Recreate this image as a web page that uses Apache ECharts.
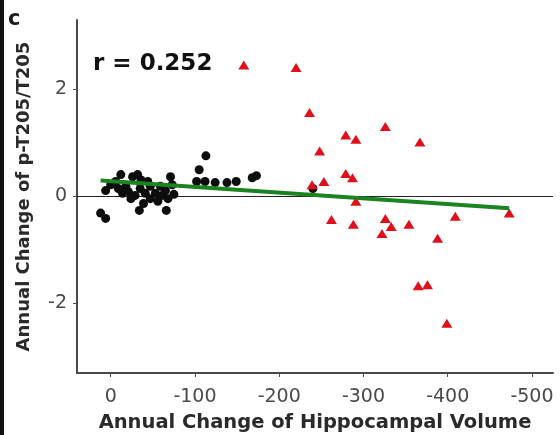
<!DOCTYPE html>
<html>
<head>
<meta charset="utf-8">
<script src="https://cdn.jsdelivr.net/npm/echarts@6/dist/echarts.min.js"></script>
<style>
  html, body { margin: 0; padding: 0; background: #fff; }
  #chart { width: 560px; height: 435px; }
</style>
</head>
<body>
<div id="chart"></div>
<script>
// 黑点：海马体积年变化较小的一组
const blackX = [12, 6, 6, 0, -12, -6, -18, -21, -26, -32, -36, -29, -35, -41, -47, -47, -53, -56, -59,
  -34, -39, -61, -65, -68, -66, -71, -73, -75, -24, -14, -44, -9,
  -113, -105, -102, -112, -124, -138, -149, -168, -173, -240];
const blackY = [-0.31, -0.41, 0.11, 0.22, 0.41, 0.28, 0.19, 0.09, 0.37, 0.41, 0.31, 0.02, 0.15, 0.06, 0.19, -0.04, 0.06, -0.09, 0.19,
  -0.26, -0.13, 0.02, 0.11, -0.04, -0.26, 0.37, 0.22, 0.04, -0.04, 0.06, 0.28, 0.15,
  0.76, 0.50, 0.28, 0.28, 0.26, 0.26, 0.28, 0.35, 0.39, 0.15];

// 红色三角：萎缩较快的一组
const redX = [-158, -220, -236, -248, -279, -291, -326, -367, -279, -287, -239, -253, -291,
  -262, -288, -326, -333, -322, -354, -409, -473, -388, -365, -376, -399];
const redY = [2.46, 2.41, 1.57, 0.85, 1.15, 1.07, 1.31, 1.02, 0.43, 0.35, 0.22, 0.28, -0.09,
  -0.43, -0.52, -0.41, -0.56, -0.69, -0.52, -0.37, -0.31, -0.78, -1.67, -1.65, -2.37];

// 回归线端点
const fitX = [12, -473];
const fitY = [0.30, -0.22];

const xTicks = [0, -100, -200, -300, -400, -500];
const yTicks = [-2, 0, 2];

const zip = (xs, ys) => xs.map((x, i) => [x, ys[i]]);

const chart = echarts.init(document.getElementById('chart'));

const axisColor = '#4a4a4a';
const labelColor = '#4a4a4a';
const fontFamily = 'DejaVu Sans, Liberation Sans, sans-serif';

const option = {
  animation: false,
  backgroundColor: '#fff',
  grid: { left: 77, right: 7, top: 20, bottom: 62, outerBoundsMode: 'none', containLabel: false },
  graphic: [
    { type: 'rect', left: 0, top: 0, shape: { width: 4, height: 435 }, style: { fill: '#111' } },
    { type: 'text', left: 8, top: 9, style: { text: 'c', font: 'bold 21px ' + fontFamily, fill: '#1a1a1a' } },
    { type: 'text', left: 93, top: 53, style: { text: 'r = 0.252', font: 'bold 23px ' + fontFamily, fill: '#111' } }
  ],
  xAxis: {
    type: 'value',
    inverse: true,
    min: -525,
    max: 40,
    name: 'Annual Change of Hippocampal Volume',
    nameLocation: 'middle',
    nameGap: 40,
    nameTextStyle: { fontSize: 19.5, fontWeight: 'bold', color: '#2a2a2a', fontFamily: fontFamily },
    splitLine: { show: false },
    axisLine: { onZero: false, lineStyle: { color: axisColor, width: 2 } },
    axisTick: { customValues: xTicks, length: 4, lineStyle: { color: axisColor } },
    axisLabel: { customValues: xTicks, fontSize: 19, color: labelColor, margin: 15, fontFamily: fontFamily }
  },
  yAxis: {
    type: 'value',
    min: -3.3,
    max: 3.3,
    name: 'Annual Change of p-T205/T205',
    nameLocation: 'middle',
    nameGap: 44,
    nameTextStyle: { fontSize: 18, fontWeight: 'bold', color: '#2a2a2a', fontFamily: fontFamily },
    splitLine: { show: false },
    axisLine: { onZero: false, lineStyle: { color: axisColor, width: 2 } },
    axisTick: { customValues: yTicks, length: 4, lineStyle: { color: axisColor } },
    axisLabel: { customValues: yTicks, fontSize: 19, color: labelColor, margin: 10, fontFamily: fontFamily }
  },
  series: [
    {
      type: 'line',
      data: [[40, 0], [-525, 0]],
      symbol: 'none',
      lineStyle: { color: '#222', width: 1.2 },
      z: 1
    },
    {
      type: 'scatter',
      data: zip(blackX, blackY),
      symbol: 'circle',
      symbolSize: 9,
      itemStyle: { color: '#0d0d0d', opacity: 1 },
      z: 3
    },
    {
      type: 'scatter',
      data: zip(redX, redY),
      symbol: 'triangle',
      symbolSize: [11, 9],
      itemStyle: { color: '#e0101a', opacity: 1 },
      z: 3
    },
    {
      type: 'line',
      data: zip(fitX, fitY),
      symbol: 'none',
      lineStyle: { color: '#1a8420', width: 4 },
      z: 4
    }
  ]
};

chart.setOption(option);
</script>
</body>
</html>
